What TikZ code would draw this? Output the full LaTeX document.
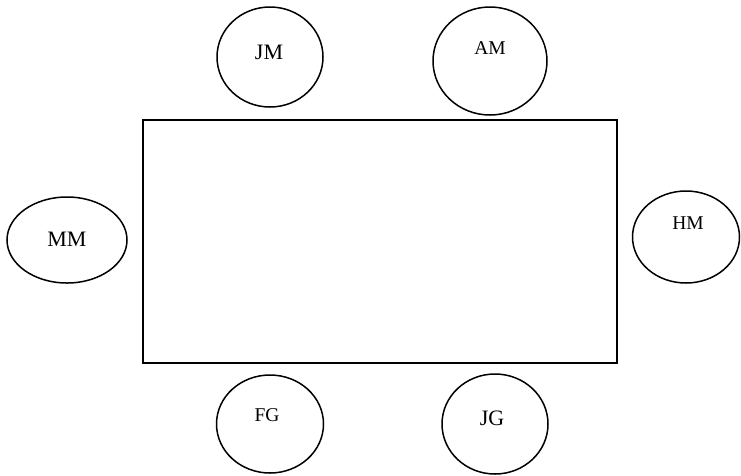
\documentclass[tikz,border=0pt]{standalone}
\usepackage{fontspec}
\setmainfont{Liberation Serif}
\usetikzlibrary{shapes.geometric}

\begin{document}
\begin{tikzpicture}[x=1pt,y=-1pt]
\tikzstyle{seat} =[ellipse, draw, line width=1.5pt, inner sep=0pt]
\tikzstyle{bigname} =[font=\fontsize{22}{24}\selectfont]
\tikzstyle{smallname} =[font=\fontsize{19.5}{22}\selectfont]
\tikzstyle{board} =[rectangle, draw, line width=1.5pt, minimum width=474pt, minimum height=243pt, inner sep=0pt]

\useasboundingbox (0,0) rectangle (741,475);

\node[board](table) at (380,241.5){};

\node[seat,minimum width=106pt,minimum height=100pt](jm) at (270,57){};
\node[seat,minimum width=114pt,minimum height=108pt](am) at (490,61){};
\node[seat,minimum width=120pt,minimum height=86pt](mm) at (67,240){};
\node[seat,minimum width=107pt,minimum height=92pt](hm) at (686,237){};
\node[seat,minimum width=107pt,minimum height=98pt](fg) at (270,424){};
\node[seat,minimum width=106pt,minimum height=100pt](jg) at (495,424){};

\node[bigname](jmtext) at (269,52){JM};
\node[smallname](amtext) at (490,48){AM};
\node[bigname](mmtext) at (67,239){MM};
\node[smallname](hmtext) at (688,223){HM};
\node[smallname](fgtext) at (267,415){FG};
\node[bigname](jgtext) at (492,418){JG};

\end{tikzpicture}
\end{document}
